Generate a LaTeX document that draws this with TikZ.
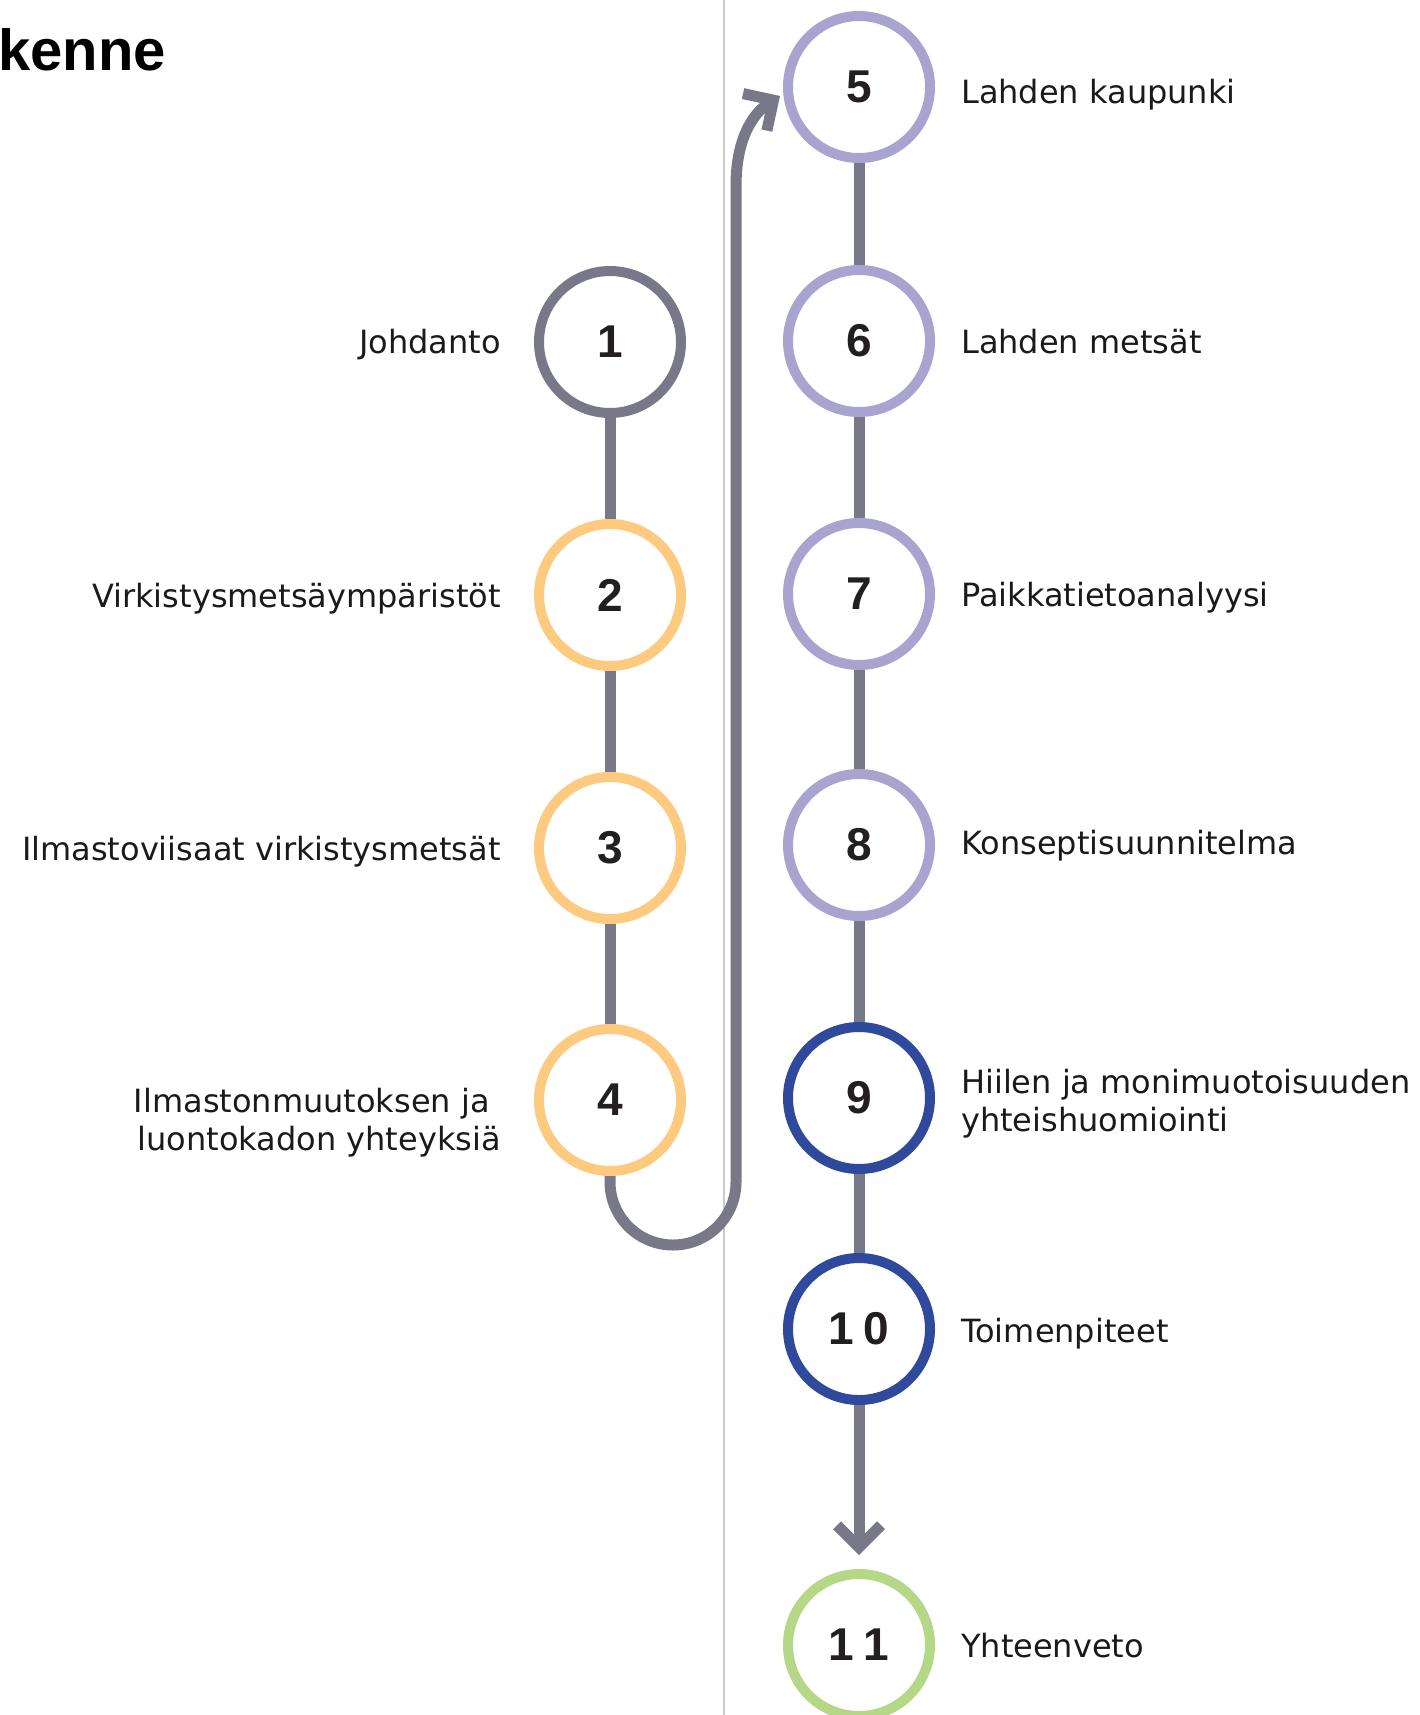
\documentclass[tikz,border=0pt]{standalone}
\usepackage{fontspec}
\setmainfont{DejaVu Sans}
\newfontfamily\titlefont{Liberation Sans}
\usetikzlibrary{arrows.meta}
\definecolor{cgray}{RGB}{121,120,137}
\definecolor{corange}{RGB}{253,202,127}
\definecolor{cviolet}{RGB}{169,163,208}
\definecolor{cblue}{RGB}{47,74,156}
\definecolor{cgreen}{RGB}{180,216,133}
\definecolor{csep}{RGB}{200,200,210}
\definecolor{txtc}{RGB}{26,26,26}
\definecolor{numc}{RGB}{35,31,32}
\begin{document}
\begin{tikzpicture}[x=1pt,y=-1pt,
  stepc/.style={circle, draw=#1, line width=10pt, minimum size=142pt, inner sep=0pt, fill=white,
    font=\titlefont\bfseries\fontsize{46}{46}\selectfont, text=numc},
  conn/.style={draw=cgray, line width=11pt},
  tiphead/.style={-{Straight Barb[length=22pt,width=44pt]}},
  lbl/.style={font=\fontsize{32}{38}\selectfont, text=txtc, inner sep=0pt},
  lblr/.style={lbl, anchor=base west},
  lbll/.style={lbl, anchor=base east},
  sepline/.style={draw=csep, line width=1.3pt}]
\useasboundingbox (0,0) rectangle (1419,1715);
\clip (0,0) rectangle (1419,1715);
% separator
\draw[sepline] (724,0) -- (724,1715);
% title
\node[anchor=base west, inner sep=0pt, font=\titlefont\bfseries\fontsize{58}{58}\selectfont] (title) at (-2,71) {kenne};
% circles
\node[stepc=cgray] (c1) at (610,342) {1};
\node[stepc=corange] (c2) at (610,595) {2};
\node[stepc=corange] (c3) at (610,848) {3};
\node[stepc=corange] (c4) at (610,1100) {4};
\node[stepc=cviolet] (c5) at (859,87) {5};
\node[stepc=cviolet] (c6) at (859,341) {6};
\node[stepc=cviolet] (c7) at (859,594) {7};
\node[stepc=cviolet] (c8) at (859,845) {8};
\node[stepc=cblue] (c9) at (859,1098) {9};
\node[stepc=cblue] (c10) at (859,1329) {1\kern9pt0};
\node[stepc=cgreen] (c11) at (859,1645) {1\kern9pt1};
% connectors
\draw[conn] (c1) -- (c2);
\draw[conn] (c2) -- (c3);
\draw[conn] (c3) -- (c4);
\draw[conn] (c5) -- (c6);
\draw[conn] (c6) -- (c7);
\draw[conn] (c7) -- (c8);
\draw[conn] (c8) -- (c9);
\draw[conn] (c9) -- (c10);
\coordinate (tip11) at (859,1555);
\draw[conn, tiphead] (c10) -- (tip11);
\coordinate (tip5) at (780,96);
\draw[conn, tiphead] (c4.south) -- ++(0,6) arc[start angle=180, end angle=0, radius=63]
  -- (736,186) .. controls (736,140) and (752,114) .. (tip5);
% labels right
\node[lblr] (l5) at (961,104) {Lahden kaupunki};
\node[lblr] (l6) at (961,353) {Lahden metsät};
\node[lblr] (l7) at (961,606) {Paikkatietoanalyysi};
\node[lblr] (l8) at (961,854) {Konseptisuunnitelma};
\node[lblr] (l9a) at (961,1093) {Hiilen ja monimuotoisuuden};
\node[lblr] (l9b) at (961,1131) {yhteishuomiointi};
\node[lblr] (l10) at (961,1342) {Toimenpiteet};
\node[lblr] (l11) at (961,1657) {Yhteenveto};
% labels left
\node[lbll] (l1) at (501,353) {Johdanto};
\node[lbll] (l2) at (501,607) {Virkistysmetsäympäristöt};
\node[lbll] (l3) at (501,860) {Ilmastoviisaat virkistysmetsät};
\node[lbll] (l4a) at (490,1112) {Ilmastonmuutoksen ja};
\node[lbll] (l4b) at (501,1150) {luontokadon yhteyksiä};
\end{tikzpicture}
\end{document}
